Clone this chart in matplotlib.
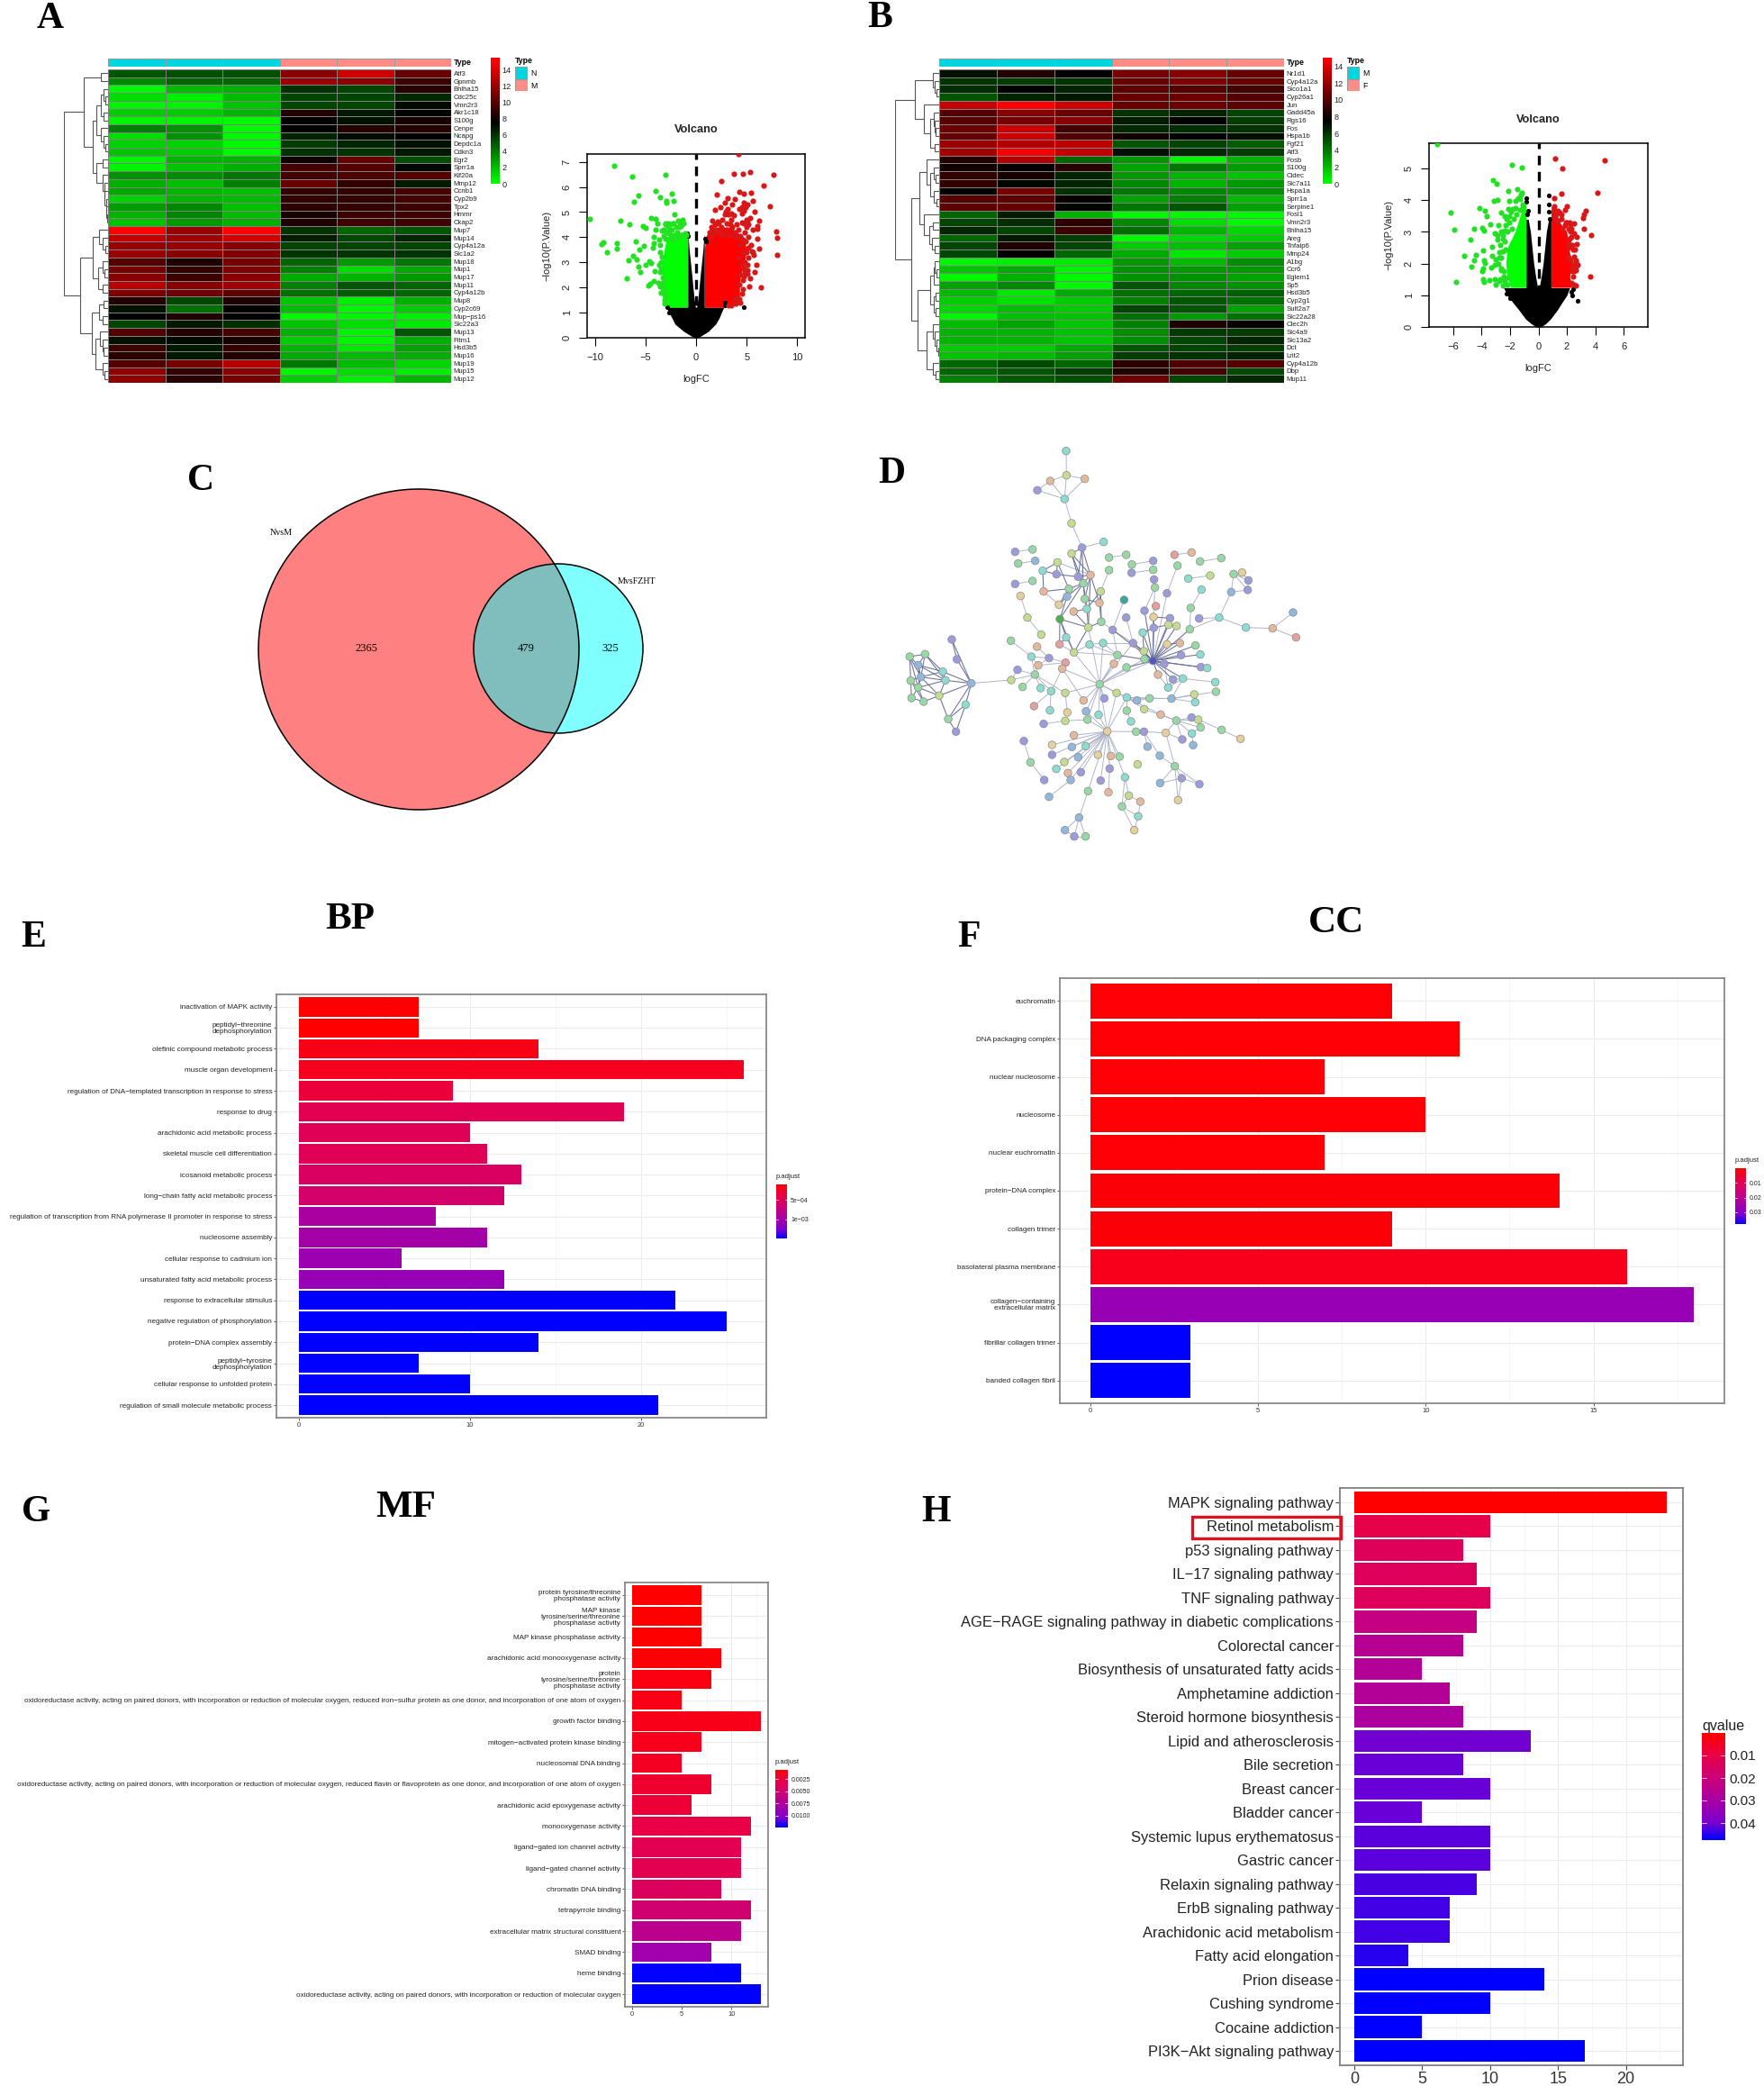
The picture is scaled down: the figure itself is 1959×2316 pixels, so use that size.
import numpy as np
import matplotlib
matplotlib.use('Agg')
import matplotlib.pyplot as plt
from matplotlib.colors import LinearSegmentedColormap, ListedColormap
from matplotlib.collections import LineCollection
from matplotlib.patches import Circle, Rectangle

W, H = 1959, 2316
plt.rcParams['font.family'] = ['Liberation Sans', 'DejaVu Sans']

# ---- panel A heatmap
genes_a = ['Atf3','Gpnmb','Bhlha15','Cdc25c','Vmn2r3','Akr1c18','S100g','Cenpe','Ncapg','Depdc1a','Cdkn3','Egr2','Sprr1a','Kif20a','Mmp12','Ccnb1','Cyp2b9','Tpx2','Hmmr','Ckap2','Mup7','Mup14','Cyp4a12a','Slc1a2','Mup18','Mup1','Mup17','Mup11','Cyp4a12b','Mup8','Cyp2c69','Mup\u2212ps16','Slc22a3','Mup13','Fitm1','Hsd3b5','Mup16','Mup19','Mup15','Mup12']
expr_a = [[5,5.2,5.2,11.5,13.5,10.5],[3.5,4.5,4.5,12,11.5,9.2],[.2,2,2.3,6,5.5,8.7],[1,.5,2,5.5,5.5,6.3],[.4,.4,1.8,5.5,5.5,7.2],
 [1.5,1.5,2.2,8.5,6.8,7.4],[.4,.4,.2,7.5,7,8.2],[3.8,3.2,.2,7.5,8.6,8.6],[1,3.2,.2,6.5,7.2,7.5],[1.4,1.3,.2,5.8,6.5,7],
 [1.7,1.5,.2,6,6,6.8],[.3,2.2,2.3,8,10.5,5.2],[.4,1.7,2.4,9.5,10,7.3],[3.2,3.4,4,9.5,9.8,10],[2.4,1.9,3.8,10.5,9,6.7],
 [2.6,2.2,1.9,9,9,9.5],[1.3,2.2,2,9,9,9.5],[2.9,3.5,1.9,8.8,9,9.3],[2.2,3.6,2,8.2,9.2,9.3],[1.8,3,2.3,8.4,9.4,9.4],
 [15,12,15,6,4.5,5],[13.2,12.2,13.7,6.7,5.5,6.5],[12,12,11.5,5.5,5.5,5.5],[12,11.5,11.2,6,6,6],[10,8.4,11,4.5,3,4],
 [11,9,11.2,3.8,1,2.5],[11.5,9.2,11.5,2.5,2.2,3],[13,11.5,12.2,3.7,5,4.5],[11.2,10.7,10.2,4.2,4.8,4.5],[8.5,5.5,8.4,1.7,.5,2.3],
 [7,4.2,7.5,1.9,.3,1.5],[7.5,8.4,7.6,.2,.3,.5],[5.5,6.8,6.2,1.8,1,.7],[10,8.6,9.5,2.3,.4,5],[7,7.2,8.2,1.5,.3,2.4],
 [9.3,6.8,9,2.2,.7,2.8],[8.8,6.8,8.5,2.5,2,2.4],[10,11,12.8,4,2,1.2],[11.7,9,11.5,.3,1,.5],[11.7,8.7,11,1.5,.5,2.2]]
tree_a = (1.0,
  (.56,(.155,0,1),(.35,(.27,(.16,(.11,2,(.07,3,4)),(.10,5,6)),(.16,7,(.11,8,(.07,9,10)))),
    (.27,(.13,11,12),(.12,13,(.09,14,(.08,15,(.05,16,(.04,17,(.03,18,19)))))))) ),
  (.63,(.35,(.2,20,(.13,21,(.07,22,23))),(.22,(.12,24,(.08,25,26)),(.12,27,28))),
    (.37,(.2,(.1,29,30),(.12,31,32)),(.28,(.18,33,(.13,34,(.1,35,36))),(.13,37,(.08,38,39))))))

# ---- panel B heatmap
genes_b = ['Nr1d1','Cyp4a12a','Slco1a1','Cyp26a1','Jun','Gadd45a','Rgs16','Fos','Hspa1b','Fgf21','Atf3','Fosb','S100g','Cidec','Slc7a11','Hspa1a','Sprr1a','Serpine1','Fosl1','Vmn2r3','Bhlha15','Areg','Tnfaip6','Mmp24','A1bg','Ccr6','Eglem1','Sp5','Hsd3b5','Cyp2g1','Sult2a7','Slc22a28','Clec2h','Slc4a9','Slc13a2','Dct','Lrit2','Cyp4a12b','Dbp','Mup11']
expr_b = [[7,8.5,7.5,11,11.5,10.5],[6,5.7,6,10.5,11.2,10.5],[6.2,7.5,6.5,10.2,10,9.5],[5,6.5,6.8,10.5,10.7,10],[13.3,15,13.5,10.5,10.7,10.2],
 [10,11.5,10.7,6,6.5,5.5],[10,11,11.5,6.7,7.5,5.7],[10.7,13.5,9.5,6.3,6.2,6],[10.5,13.5,10,8,7.5,7],[12,12.7,13,5,5.5,4.8],
 [12.3,14.8,13.2,7,6.3,5.7],[8.5,12.7,4.5,3,.3,2.2],[8,7.7,8.7,2.7,4,2.9],[9,8.2,6.5,3,2.2,1.7],[9,7.3,6.5,3.5,2.2,3],
 [7.6,11,6,4,3.5,3.2],[10,10.2,7.7,2.7,3.7,2],[10.2,10.4,7.6,4,5,2.8],[4.5,6.7,2.3,.2,.2,.2],[5.5,6.2,8.8,3.5,1,.2],
 [6.5,5.5,9.2,4.3,2.2,1.2],[4.5,6.8,5.7,.2,1.2,1.5],[5.5,8.4,5.5,1.5,1.8,2.7],[5.5,7.6,4.5,2.5,.7,1.5],[.3,.5,.6,3,2,3.3],
 [1.7,2.5,.4,3.2,3,3],[.2,2.3,.2,3.2,3.2,2.7],[2.7,3.5,.2,5,3.5,3.2],[2,.7,2.5,4.2,4.5,4.7],[1.5,.9,1.5,3.7,5,4.2],
 [1.2,1.9,1.5,5.5,5,2.7],[.3,1.9,1.8,4.2,3,4.2],[2,2.7,1.7,3.7,8.4,7.7],[2.2,2.2,1.8,3.3,5.8,5.8],[2.2,2.2,1.7,3.3,5.5,6.5],
 [1.5,1.5,2.5,5,5.5,5.7],[1.7,2,2.7,5.7,6,6.5],[4.5,5.3,4.5,8.8,9.8,10],[4.5,5,5.7,8.5,9.5,5.3],[3.7,4.9,5.2,10.7,5.5,6.3]]
tree_b = (1.0,
  (.55,(.14,0,(.1,1,(.07,2,3))),(.34,4,(.2,(.13,5,(.1,6,(.08,7,8))),(.1,9,10)))),
  (.63,(.45,(.28,11,(.2,(.12,12,(.08,13,14)),(.13,15,(.07,16,17)))),(.34,18,(.22,(.14,19,20),(.16,21,(.1,22,23))))),
    (.49,(.2,(.13,(.1,24,(.07,25,26)),27),(.13,(.09,28,29),(.09,30,31))),
      (.28,(.14,32,(.1,33,(.07,34,(.03,35,36)))),(.14,37,(.09,38,39))))))

green_a_x = [-8.1,-6.35,-3,-3.98,-2.43,-5.67,-3.56,-6.14,-2.97,-2.2,-2.97,-2.14,-10.53,-7.48,-6.56,-4.42,-4,-5.25,-4.99,-3.8,-4,-4.21,-3.62,-5.96,-5.16,-5.64,-9.32,-9.14,-7.83,-7.86,-8.84,-6.68,-6.2,-5.9,-5.67,-5.52,-4.99,-4.66,-4.45,-3.68,-4.07,-6.82,-4.75,-4.54,-4.18,-4.3,-4.15,-3.41,-3,-2.8,-2.6,-2.4,-2.2,-2,-1.8,-1.6,-1.5,-2.9,-3.2,-3.4,-2.7,-3,-2.5,-2.2,-1.9,-1.4,-1.1,-1,-3.5,-3.3,-3.3,-3.2,-3,
 -3.2,-3.05,-2.75,-2.55,-2.35,-1.7,-1.35,-1.55,-1.25,-3.6,-3.55,-3.7,-3.4,-3.45,-3.6,-3.15,-3.1,-3.55,-2.3,-1.7,-3.45]
green_a_y = [6.86,6.43,6.49,5.83,5.72,5.65,5.59,5.4,5.45,5.44,5.38,4.92,4.72,4.67,4.5,4.76,4.73,4.44,4.38,4.55,4.29,4.02,3.9,3.84,3.67,3.52,3.73,3.79,3.76,3.54,3.4,3.09,3.26,3.1,2.84,2.6,2.92,3.04,2.96,2.9,2.65,2.36,2.09,2.15,2.27,3.58,3.76,3.22,4.55,4.4,4.5,4.3,4.55,4.4,4.65,4.6,4.5,4.2,4.3,4.25,4.15,3.95,4,4.1,4.2,4.1,4.15,4.1,3,2.4,2.2,1.9,1.7,
 4.05,4.5,4.55,4.3,4.55,4.4,4.7,4.45,4.55,3.4,2.6,2.2,2.1,1.8,2.05,1.5,1.35,3.7,3.9,4,2.75]
red_a_x = [4.15,5.34,4.6,3.71,7.69,2.52,6.65,2.08,4.3,4.75,5.4,5.64,7.27,3.12,3.86,2.82,3.56,4.75,5.04,2.37,1.87,3.12,4.3,4.75,5.76,2.82,3.71,5.34,6.23,1.63,2.14,5.04,6.02,5.64,6.08,7.89,8.04,6.02,1.48,6.2,8.01,5.64,5.1,5.93,5.82,5.1,5.34,5.28,6.38,4.69,4,3.5,3,2.5,3.8,4.5,5,4.8,5.2,5.4,5,5.7,4.4,4.8,4.5,4.6,4.3,4,3.7,
 1.7,2,2.3,1.5,2.7,3,3.3,3.6,3.9,4.2,4.4,4.6,4.9,5.2,5.5,5.2,4.6,4.3,2.9,3.2,3.5,2.6,4.5,4.9,4.5,5.2,4.7,5,3.4,2.2,1.3,1.9,4.4,4.3,4.6,4.5,4.35,3.9,3.5,3.2,5.1,4.85,4.75]
red_a_y = [7.31,6.61,6.51,6.52,6.49,6.25,6.05,5.69,5.82,5.72,5.77,5.45,5.23,5.54,5.52,5.37,5.3,5.37,5.3,5.19,5.09,5.13,5.13,5.07,5.02,4.92,4.89,4.77,4.65,4.65,4.61,4.65,4.45,4.29,4.32,4.23,3.99,3.94,4.41,3.54,3.28,3.4,2.92,2.9,2.62,2.56,2.35,2.05,2,2.44,4.5,4.7,4.55,4.4,4.2,4.6,4.7,4.2,4,3.7,3.4,3.3,3.7,3,2.9,2.3,1.55,1.6,1.5,
 4.2,4.3,4.2,4,4.1,4.3,4.1,4.4,4,4.3,4.05,3.9,3.85,3.6,3.45,3.2,3.4,3.2,5,4.9,4.95,4.7,5.2,5.2,4.95,4.5,4.55,4.4,4.5,4.55,4.2,4.5,2.5,2.1,1.95,1.75,1.4,1.35,1.3,1.3,2.7,2.6,2.75]
black_a_x = [4.75,-2.7,-2.88,2.82,2.88,-.85,-.82,.85,.95]
black_a_y = [1.22,.99,1.22,1.28,1.38,4.15,4.05,3.95,3.85]
fan_a_y = [0,.1,.25,.54,.8,1,1.22]
fan_a_l = [-.15,-.6,-1.2,-2.08,-2.4,-2.67,-2.95]
fan_a_r = [.15,.6,1.2,1.93,2.3,2.5,2.75]
arm_a_y = [1.2,1.6,2,2.5,3,3.5,4.1]
arm_a_in = [.06,.2,.3,.42,.55,.68,.8]
arm_a_out = [.82,.82,.82,.82,.82,.82,.82]
gdense_a_y = [1.22,1.5,2,2.5,3,3.5,4,4.2]
gdense_a_l = [-3.0,-3.26,-3.5,-3.35,-3.35,-3.15,-2.9,-1.5]
gdense_a_r = [-.83,-.83,-.83,-.83,-.83,-.83,-.83,-.83]
rdense_a_y = [1.22,1.4,2,2.5,3,3.5,4,4.4]
rdense_a_l = [.83,.83,.83,.83,.83,.83,.95,1.4]
rdense_a_r = [2.6,4.3,4.3,4.4,4.8,5,4.7,3.4]

# ---- volcano B
green_b_x = [-7.15,-1.86,-1.16,-3.17,-2.94,-2.14,-1.48,-1.16,-1.23,-6.16,-5.95,-4.13,-3.77,-3.62,-2.62,-2.86,-3.13,-2.03,-4.51,-3.94,-3.83,-3.39,-4.8,-5.25,-4.42,-3.92,-4.55,-4.7,-3.83,-3.77,-3.87,-3.94,-3.89,-3.81,-3.45,-5.8,-3.03,-3.05,-2.77,-2.5,-3.26,-3.26,-3.09,-3.34,-3.09,-2.98,-2.24,-2.14,-1.82,-1.6,-1.4,-1.08,-2.05,-2.8,-2.6,-2.9,-2.7,-2.5,-2.5,-2.75,-2.35,-2.6,-2.45,-2.3,
 -2.5,-2.4,-2.2,-2.05,-1.9,-1.75,-1.55,-1.3,-1.1,-1.6,-1.3,-2.3,-2.6,-2.75,-2.8,-2.65,-2.45,-2.7,-2.4,-2.2,-2.15,-2.9,-2.35,-1.95]
green_b_y = [5.78,5.12,5.02,4.63,4.53,4.29,4.35,4.23,4.17,3.61,3.06,3.75,3.68,3.49,3.61,4,3.97,3.98,3.1,3.13,3.04,3.23,2.76,2.26,2.28,2.41,2.09,1.91,2.1,2.02,1.86,1.76,1.5,1.42,1.47,1.42,1.33,1.5,1.45,1.31,2.26,2.54,2.97,1.88,1.97,2.12,3.4,3.73,3.73,3.97,4.06,3.87,3.5,3.2,3,2.75,2.6,2.9,2.4,2.2,2.7,1.8,1.6,3.2,
 2.8,3.05,3,3.3,3.1,3.4,3.55,3.7,3.75,3.75,4.05,2.45,2.2,2.35,2,1.85,1.75,1.5,1.45,1.35,1.55,2.9,3.5,3.65]
red_b_x = [1.19,1.67,4.64,4.13,1.59,1.1,3.3,3.17,3.15,3.17,3.72,3.64,2.69,2.69,1.99,1.88,1.14,1.35,2.52,2.2,1.99,2.73,2.62,2.62,2.41,2.41,2.52,1.6,2.3,2.5,2.65,2.2,2.4,
 1.1,1.25,1.5,1.7,1.9,2.1,2.25,2.3,2.4,2.15,2.55,2.25,2.6,2.5,2.3,2.5,2.45,1.6,1.35,1.1,2.1,2.15,2.6,2.35,1.95,2.25]
red_b_y = [5.31,5,5.26,4.24,4.2,4.06,3.67,3.56,3.44,3.09,2.91,1.59,2.84,2.61,3.82,3.7,3.82,3.68,3.28,3.3,3.3,1.97,1.78,1.31,1.59,2.45,2.21,3.55,3.1,2.95,2.1,2.8,1.9,
 3.7,3.55,3.6,3.1,3.2,3.1,3,2.85,2.6,2.5,2.45,2.1,1.9,1.75,1.4,1.35,1.95,3.4,3.35,3.45,2.65,2.2,2.05,1.75,3.3,3.25]
black_b_x = [-.83,-.88,-.76,-.82,.76,.72,.75,.8,2.75,2.4,2.3,2.45,-2.25,-2.0]
black_b_y = [4.06,3.96,3.68,3.55,4.15,3.87,3.63,3.4,.82,1.0,1.1,1.18,1.05,.9]
fan_b_y = [0,.1,.25,.55,.8,1,1.24]
fan_b_l = [-.15,-.5,-.9,-1.4,-1.85,-2.2,-2.45]
fan_b_r = [.15,.5,.85,1.35,1.7,2,2.2]
arm_b_y = [1.2,1.6,2,2.5,3,3.4]
arm_b_in = [.04,.2,.33,.45,.56,.72]
arm_b_out = [.88,.88,.88,.88,.88,.88]
gdense_b_y = [1.25,1.6,2,2.5,3,3.5,3.9]
gdense_b_l = [-1.95,-2.2,-2.3,-2.2,-1.65,-1.3,-1.0]
gdense_b_r = [-.88,-.88,-.88,-.88,-.88,-.88,-.88]
rdense_b_y = [1.25,1.6,2,2.5,3,3.3,3.8]
rdense_b_l = [.88,.88,.88,.88,.88,.88,.9]
rdense_b_r = [2.35,2.2,2.4,2.1,2.0,1.5,1.1]

# ---- venn
venn_names = ['NvsM', 'MvsFZHT']
venn_counts = [2365, 479, 325]

node_x = [672,673,619,576,734,667,690,725,797,690,502,560,512,569,815,872,1033,1090,891,962,890,962,1043,1118,1189,643,594,640,712,753,815,965,968,1079,1152,1230,1258,1279,1277,1222,502,560,729,597,681,787,1008,1123,520,675,734,865,648,783,741,697,971,1087,933,543,651,872,963,1018,1115,1182,789,746,827,964,1013,1040,1084,1271,1360,1428,1438,589,672,927,291,488,650,575,750,795,895,1008,1051,1103,931,698,556,615,843,933,961,1055,1119,308,151,202,179,261,188,154,270,179,157,197,249,356,337,279,305,489,510,527,568,579,670,659,831,873,999,1121,1142,978,1028,1061,1169,587,622,669,784,840,1012,1171,1099,1102,565,730,799,874,908,950,1023,618,676,738,780,874,932,987,669,597,743,888,1039,1090,1112,1120,1091,1190,1253,809,905,931,1004,1059,1095,698,531,625,691,737,943,625,712,778,821,850,984,553,666,910,639,678,721,817,1034,868,599,687,787,1057,1116,985,745,813,881,615,919,1045,858,912,715,899,668,699,737]
node_y = [62,143,162,193,155,222,303,384,365,404,398,390,437,428,417,408,408,400,440,428,468,458,444,430,419,433,461,473,481,475,459,490,517,487,477,472,467,493,525,532,505,495,503,530,521,530,536,524,545,547,555,558,574,568,588,597,579,585,594,617,622,617,615,619,620,617,631,650,658,651,641,645,656,650,653,600,683,674,683,667,690,694,706,714,707,702,702,706,702,710,729,733,747,752,742,755,761,742,740,756,747,739,775,797,815,827,826,850,885,897,877,836,907,955,997,825,791,848,807,776,767,787,771,783,771,782,785,807,823,820,832,852,862,868,839,868,850,864,873,899,912,893,886,883,893,886,887,926,933,929,941,927,922,940,961,971,957,963,960,950,957,983,1003,991,1021,996,997,997,1001,1023,1042,1009,1028,1041,1048,1045,1047,1074,1082,1074,1078,1080,1077,1099,1098,1106,1121,1135,1132,1120,1112,1149,1158,1158,1160,1152,1172,1168,1195,1199,1210,1214,1230,1225,1246,1279,1283,1325,1325,1346,1346]
node_kind = ('tlopotlptl' 'pggbggrogp' 'pggggltppo' 'gpgtlgsppb' 'pggoglptsb' 'gTsotorgpl' 'Gpspptglpp'
             'llgtobrltt' 'pgrottpsog' 'lltpggPptp' 'ggbtbgtggg' 'lbtgplpggo' 'roogpptopt' 'tttlgltglt'
             'roptbgbtsb' 'tglolpgtgp' 'lgtgssgpsp' 'bopsbtbpbs' 'ogbglltopp' 'gtpbpppbgo' 'lbosgtbsbpg')
node_palette = {'p':'#9c9cdc','g':'#98d8a4','t':'#8cdcd0','l':'#c4dc90','o':'#e4b89c','b':'#90b8dc','s':'#e4d09c','r':'#e4a09c','T':'#3aa89c','G':'#4caf50','P':'#5058c8'}
edges_light = [(0,1),(1,2),(1,4),(1,5),(2,5),(3,5),(2,3),(4,5),(5,6),(6,7),(7,8),(10,11),(12,13),(14,15),(18,19),(20,21),(16,17),(23,24),(33,34),(40,41),(48,59),(59,77),(30,45),(43,52),(25,29),
 (81,92),(92,93),(93,120),(119,120),(119,93),(115,116),(115,118),(118,92),(118,117),(118,119),(118,131),(118,132),(118,133),(118,116),(121,132),(121,120),(172,183),(183,192),(201,193),(111,115),
 (94,84),(91,84),(91,94),(91,134),(134,133),(134,135),(134,121),(134,94),(134,86),(134,141),(134,142),(134,149),(134,150),(134,156),(134,122),(134,85),(134,143),(134,123),(134,67),(134,95),(134,96),
 (165,171),(165,173),(165,174),(165,175),(165,177),(165,178),(165,179),(165,180),(165,181),(165,184),(165,186),(165,187),(165,188),(165,189),(165,191),(165,193),(165,194),(165,198),(165,166),(165,150),(165,149),(165,156),(165,143),(165,134),(165,135),
 (166,167),(167,168),(168,169),(168,158),(190,168),(190,182),(190,195),(190,203),(190,196),(195,196),(195,203),(197,190),(197,195),(191,200),(191,204),(200,202),(200,204),(202,205),(204,205),(205,207),(204,207),
 (206,198),(206,208),(206,209),(206,210),(208,209),(209,210),(176,167),(182,167),(158,159),(158,160),(158,161),(158,162),(158,169),(159,160),(160,161),(161,162),(162,170),(160,163),(163,164),(199,189),
 (65,72),(65,64),(65,73),(65,39),(47,57),(57,72),(39,35),(35,36),(35,37),(35,38),(36,37),(37,38),(39,38),(73,74),(74,75),(74,76),(46,96),(46,22),(31,32),(32,58),(32,62),
 (143,145),(143,146),(143,144),(143,151),(143,152),(143,153),(143,135),(145,146),(146,129),(136,128),(136,129),(136,127),(130,129),(138,146),(139,146),(137,146),(51,68),(61,86),(68,86),(68,94),(84,85),(85,94),(85,86),(153,158),(152,158),(151,157),(144,145),(124,136),(128,129),(140,132),(147,132),(148,133),(154,156),(155,154),(66,68),(121,141),(83,93),(92,119),(78,91),(82,91)]
edges_dark = [(7,9),(7,29),(7,28),(7,42),(25,26),(25,27),(25,44),(26,27),(26,43),(27,28),(28,29),(28,42),(9,28),(9,42),(29,42),(9,29),(42,44),(42,49),(42,60),(42,54),(42,50),(44,49),(44,52),(43,44),(29,50),(29,53),(29,67),(45,54),(45,53),(45,66),(50,53),(50,54),(54,67),(55,67),(49,60),(49,52),(60,67),(60,82),(60,78),(60,91),(66,67),(53,66),(54,55),(67,91),(82,78),
 (96,90),(96,95),(96,86),(96,79),(96,69),(96,62),(96,58),(96,63),(96,70),(96,71),(96,72),(96,124),(96,97),(96,98),(96,125),(96,126),(96,89),(96,88),(96,87),(96,127),(96,94),(96,123),(96,129),(96,128),(96,68),(69,79),(69,70),(69,62),(79,90),(90,95),(86,90),(87,88),(70,71),(62,63),
 (111,80),(111,99),(111,103),(111,106),(111,110),(111,112),(111,113),(112,113),(113,114),(112,114),(80,99),(110,113),
 (100,101),(100,102),(100,104),(100,105),(100,107),(101,102),(101,103),(101,104),(102,103),(102,104),(102,106),(103,104),(103,106),(104,105),(104,106),(104,107),(104,110),(105,107),(105,108),(105,109),(106,107),(106,110),(107,108),(107,109),(107,110),(108,109),(109,110),(102,107),(101,106)]

# ---- enrichment bars
bp_terms = ['inactivation of MAPK activity','peptidyl\u2212threonine\ndephosphorylation','olefinic compound metabolic process','muscle organ development','regulation of DNA\u2212templated transcription in response to stress','response to drug','arachidonic acid metabolic process','skeletal muscle cell differentiation','icosanoid metabolic process','long\u2212chain fatty acid metabolic process','regulation of transcription from RNA polymerase II promoter in response to stress','nucleosome assembly','cellular response to cadmium ion','unsaturated fatty acid metabolic process','response to extracellular stimulus','negative regulation of phosphorylation','protein\u2212DNA complex assembly','peptidyl\u2212tyrosine\ndephosphorylation','cellular response to unfolded protein','regulation of small molecule metabolic process']
bp_count = [7,7,14,26,9,19,10,11,13,12,8,11,6,12,22,25,14,7,10,21]
bp_padj = [1.1e-4,1.1e-4,2e-4,2.3e-4,3.5e-4,4.6e-4,4.8e-4,4.8e-4,5.5e-4,6e-4,9.5e-4,1e-3,1.05e-3,1.08e-3,1.48e-3,1.48e-3,1.48e-3,1.48e-3,1.48e-3,1.48e-3]
cc_terms = ['euchromatin','DNA packaging complex','nuclear nucleosome','nucleosome','nuclear euchromatin','protein\u2212DNA complex','collagen trimer','basolateral plasma membrane','collagen\u2212containing\nextracellular matrix','fibrillar collagen trimer','banded collagen fibril']
cc_count = [9,11,7,10,7,14,9,16,18,3,3]
cc_padj = [.0003,.0003,.0003,.0003,.0003,.001,.001,.003,.027,.038,.038]
mf_terms = ['protein tyrosine/threonine\nphosphatase activity','MAP kinase\ntyrosine/serine/threonine\nphosphatase activity','MAP kinase phosphatase activity','arachidonic acid monooxygenase activity','protein\ntyrosine/serine/threonine\nphosphatase activity','oxidoreductase activity, acting on paired donors, with incorporation or reduction of molecular oxygen, reduced iron\u2212sulfur protein as one donor, and incorporation of one atom of oxygen','growth factor binding','mitogen\u2212activated protein kinase binding','nucleosomal DNA binding','oxidoreductase activity, acting on paired donors, with incorporation or reduction of molecular oxygen, reduced flavin or flavoprotein as one donor, and incorporation of one atom of oxygen','arachidonic acid epoxygenase activity','monooxygenase activity','ligand\u2212gated ion channel activity','ligand\u2212gated channel activity','chromatin DNA binding','tetrapyrrole binding','extracellular matrix structural constituent','SMAD binding','heme binding','oxidoreductase activity, acting on paired donors, with incorporation or reduction of molecular oxygen']
mf_count = [7,7,7,9,8,5,13,7,5,8,6,12,11,11,9,12,11,8,11,13]
mf_padj = [.0006,.0006,.0006,.0009,.0012,.0013,.0014,.0016,.0018,.0022,.0025,.0030,.0036,.0036,.0042,.0052,.0068,.0085,.0125,.0125]
kegg_terms = ['MAPK signaling pathway','Retinol metabolism','p53 signaling pathway','IL\u221217 signaling pathway','TNF signaling pathway','AGE\u2212RAGE signaling pathway in diabetic complications','Colorectal cancer','Biosynthesis of unsaturated fatty acids','Amphetamine addiction','Steroid hormone biosynthesis','Lipid and atherosclerosis','Bile secretion','Breast cancer','Bladder cancer','Systemic lupus erythematosus','Gastric cancer','Relaxin signaling pathway','ErbB signaling pathway','Arachidonic acid metabolism','Fatty acid elongation','Prion disease','Cushing syndrome','Cocaine addiction','PI3K\u2212Akt signaling pathway']
kegg_count = [23,10,8,9,10,9,8,5,7,8,13,8,10,5,10,10,9,7,7,4,14,10,5,17]
kegg_q = [.0002,.0105,.0135,.014,.014,.022,.026,.027,.027,.029,.0405,.041,.041,.041,.042,.042,.043,.0435,.0435,.045,.0476,.0476,.0476,.0476]

heat_cmap = LinearSegmentedColormap.from_list('gbr', ['#00ff00', '#000000', '#ff0000'])
bar_cmap = LinearSegmentedColormap.from_list('rb', [(0,'#ff0000'),(.21,'#e80048'),(.42,'#cc0078'),(.63,'#a800a4'),(.84,'#7a00d0'),(1,'#0000ff')])
type_colors = ListedColormap(['#00d5e0', '#ff8d85'])

fig = plt.figure(figsize=(W/100, H/100), dpi=100, facecolor='white')

def box(x0, y0, x1, y1):
    return fig.add_axes([x0/W, 1-y1/H, (x1-x0)/W, (y1-y0)/H])

def draw_tree(ax, node):
    if not isinstance(node, tuple):
        return 0, node + .5
    h, a, b = node
    h1, y1 = draw_tree(ax, a)
    h2, y2 = draw_tree(ax, b)
    ax.plot([h1, h, h, h2], [y1, y1, y2, y2], color='#555555', lw=.8, solid_joinstyle='miter')
    return h, (y1+y2)/2

def heatmap(x0, x1, expr, genes, tree, names, tick_top):
    a = box(x0, 65, x1, 74)
    a.pcolormesh([[0,0,0,1,1,1]], cmap=type_colors, edgecolors='#9a9a9a', linewidth=.6)
    a.axis('off')
    fig.text((x1+3)/W, 1-70/H, 'Type', fontsize=6.3, fontweight='bold', va='center')
    m = box(x0, 77, x1, 425)
    m.pcolormesh(np.array(expr), cmap=heat_cmap, vmin=0, vmax=15, edgecolors='#808080', linewidth=.6)
    m.set_ylim(40, 0)
    m.set_xticks([])
    m.yaxis.tick_right()
    m.set_yticks(np.arange(40)+.5, genes, fontsize=5.6, color='#222222')
    m.tick_params(length=0, pad=2)
    for s in m.spines.values():
        s.set_visible(False)
    d = box(x0-49, 77, x0, 425)
    draw_tree(d, tree)
    d.set_xlim(1.0, 0)
    d.set_ylim(40, 0)
    d.axis('off')
    # colour key
    kx = x1+44 if names[0] == 'N' else x1+43
    c = box(kx, 64, kx+10, 204)
    c.imshow(np.linspace(tick_top, 0, 200)[:, None], cmap=heat_cmap, vmin=0, vmax=15, aspect='auto', extent=[0, 1, 0, tick_top])
    c.set_xticks([])
    c.yaxis.tick_right()
    c.set_yticks([0,2,4,6,8,10,12,14], ['0','2','4','6','8','10','12','14'], fontsize=6.6, color='#222222')
    c.tick_params(length=0, pad=2)
    for s in c.spines.values():
        s.set_visible(False)
    lx = x1+71 if names[0] == 'N' else x1+70
    fig.text(lx/W, 1-68/H, 'Type', fontsize=6.3, fontweight='bold', va='center')
    k = box(lx, 74, lx+14, 101)
    k.pcolormesh([[1],[0]], cmap=type_colors, edgecolors='#9a9a9a', linewidth=.6)
    k.axis('off')
    fig.text((lx+17)/W, 1-81/H, names[0], fontsize=6.3, va='center')
    fig.text((lx+17)/W, 1-95/H, names[1], fontsize=6.3, va='center')

def fill_band(ax, y, l, r, color, z):
    ax.fill_betweenx(y, l, r, color=color, lw=0, zorder=z)

def volcano(rect, lim_x, lim_y, ticks_x, ticks_y, fan, arm, gd, rd, gp, rp, bp, title_y):
    ax = box(*rect)
    ax.plot([0, 0], [0, lim_y], color='k', lw=2.4, ls=(0, (3.2, 2.2)), zorder=6)
    fill_band(ax, fan[0], fan[1], fan[2], 'k', 2)
    ya, ia, oa = arm
    fill_band(ax, ya, ia, oa, 'k', 2)
    fill_band(ax, ya, [-v for v in oa], [-v for v in ia], 'k', 2)
    fill_band(ax, gd[0], gd[1], gd[2], '#00ff00', 3)
    fill_band(ax, rd[0], rd[1], rd[2], '#ff0000', 3)
    ax.scatter(bp[0], bp[1], s=14, color='k', lw=0, zorder=4)
    ax.scatter(gp[0], gp[1], s=20, color='#22e022', lw=0, zorder=5)
    ax.scatter(rp[0], rp[1], s=20, color='#d81818', lw=0, zorder=5)
    ax.set_xlim(-lim_x, lim_x)
    ax.set_ylim(0, lim_y)
    ax.set_xticks(ticks_x, [str(t).replace('-', '\u2212') for t in ticks_x], fontsize=8, color='#222222')
    ax.set_yticks(ticks_y, [str(t) for t in ticks_y], fontsize=8, rotation=90, va='center', color='#222222')
    ax.tick_params(length=6.5, width=.8, pad=6)
    for s in ax.spines.values():
        s.set_linewidth(1.1)
    ax.set_xlabel('logFC', fontsize=8, labelpad=10, color='#222222')
    ax.set_ylabel('\u2212log10(P.Value)', fontsize=8, labelpad=9, color='#222222')
    cx = (rect[0]+rect[2])/2
    fig.text(cx/W, 1-title_y/H, 'Volcano', fontsize=9.2, fontweight='bold', ha='center', va='center', color='#222222')

def bars(rect, terms, count, colval, vmax_range, xlim, major, minor, fs, tfs, lw_spine=1.2):
    ax = box(*rect)
    y = np.arange(len(terms))
    vmin, vmax = vmax_range
    cols = bar_cmap((np.array(colval)-vmin)/(vmax-vmin))
    ax.barh(y, count, height=.92, color=cols, edgecolor='none', zorder=3)
    ax.set_ylim(len(terms)-.4, -.6)
    ax.set_xlim(*xlim)
    ax.set_yticks(y, terms, fontsize=fs, color='#222222', linespacing=1.0)
    ax.set_xticks(major, [str(m) for m in major], fontsize=tfs, color='#333333')
    ax.set_xticks(minor, minor=True)
    ax.tick_params(axis='both', which='major', length=2, width=.6, color='#444444', pad=1.5)
    ax.tick_params(axis='x', which='minor', length=0)
    ax.grid(True, which='major', color='#ececec', lw=.8, zorder=0)
    ax.grid(True, which='minor', axis='x', color='#f3f3f3', lw=.5, zorder=0)
    for s in ax.spines.values():
        s.set_color('#808080')
        s.set_linewidth(lw_spine)
    return ax

def gradient(rect, vrange, ticks, labels, title, fs, title_fs):
    c = box(*rect)
    c.imshow(np.linspace(0, 1, 200)[:, None], cmap=bar_cmap, aspect='auto', extent=[0, 1, vrange[1], vrange[0]])
    c.set_xticks([])
    c.yaxis.tick_right()
    c.set_yticks(ticks, labels, fontsize=fs, color='#222222')
    c.tick_params(length=0, pad=3)
    for t in ticks:
        c.plot([0, .2], [t, t], color='white', lw=.5)
        c.plot([.8, 1], [t, t], color='white', lw=.5)
    c.set_xlim(0, 1)
    c.set_ylim(vrange[1], vrange[0])
    for s in c.spines.values():
        s.set_visible(False)
    fig.text(rect[0]/W, 1-(rect[1]-8)/H, title, fontsize=title_fs, va='center', color='#222222')

heatmap(120, 501, expr_a, genes_a, tree_a, ['N', 'M'], 15.5)
heatmap(1043, 1426, expr_b, genes_b, tree_b, ['M', 'F'], 15.0)

volcano((652, 171, 894, 375), 10.77, 7.31, [-10,-5,0,5,10], [0,1,2,3,4,5,6,7],
        (fan_a_y, fan_a_l, fan_a_r), (arm_a_y, arm_a_in, arm_a_out), (gdense_a_y, gdense_a_l, gdense_a_r), (rdense_a_y, rdense_a_l, rdense_a_r),
        (green_a_x, green_a_y), (red_a_x, red_a_y), (black_a_x, black_a_y), 144)
volcano((1587, 159, 1830, 363), 7.7, 5.8, [-6,-4,-2,0,2,4,6], [0,1,2,3,4,5],
        (fan_b_y, fan_b_l, fan_b_r), (arm_b_y, arm_b_in, arm_b_out), (gdense_b_y, gdense_b_l, gdense_b_r), (rdense_b_y, rdense_b_l, rdense_b_r),
        (green_b_x, green_b_y), (red_b_x, red_b_y), (black_b_x, black_b_y), 133)

# venn, overlay in full picture pixels
page = fig.add_axes([0, 0, 1, 1])
page.set_xlim(0, W)
page.set_ylim(H, 0)
page.axis('off')
page.set_zorder(10)
big = Circle((465, 721), 178, fc='#ff8080', ec='none')
small = Circle((620, 720), 94, fc='#80ffff', ec='none')
page.add_patch(big)
page.add_patch(small)
both = Circle((620, 720), 94, fc='#80bebe', ec='none')
page.add_patch(both)
both.set_clip_path(big)
page.add_patch(Circle((465, 721), 178, fc='none', ec='k', lw=1.1))
page.add_patch(Circle((620, 720), 94, fc='none', ec='k', lw=1.1))
page.text(312, 592, venn_names[0], fontsize=7.2, family='Liberation Serif', ha='center', va='center')
page.text(707, 645, venn_names[1], fontsize=7.2, family='Liberation Serif', ha='center', va='center')
page.text(407, 720, str(venn_counts[0]), fontsize=9, family='Liberation Serif', ha='center', va='center')
page.text(584, 720, str(venn_counts[1]), fontsize=9, family='Liberation Serif', ha='center', va='center')
page.text(678, 720, str(venn_counts[2]), fontsize=9, family='Liberation Serif', ha='center', va='center')

for letter, lx, ly in zip('ABCDEFGH', [56,977,223,990,37,1076,40,1039], [21,20,534,526,1041,1041,1679,1679]):
    page.text(lx, ly, letter, fontsize=30, family='Liberation Serif', fontweight='bold', ha='center', va='center')
for sub, sx, sy in zip(['BP','CC','MF'], [389,1484,451], [1021,1025,1674]):
    page.text(sx, sy, sub, fontsize=31, family='Liberation Serif', fontweight='bold', ha='center', va='center')

# network
net = box(960, 480, 1480, 940)
net.set_xlim(0, 1560)
net.set_ylim(1380, 0)
net.axis('off')
nx = np.array(node_x)
ny = np.array(node_y)
light = [[(nx[a], ny[a]), (nx[b], ny[b])] for a, b in edges_light]
dark = [[(nx[a], ny[a]), (nx[b], ny[b])] for a, b in edges_dark]
net.add_collection(LineCollection(light, colors='#aab0c8', linewidths=.65, zorder=1))
net.add_collection(LineCollection(dark, colors='#6a7098', linewidths=.75, zorder=1))
cols = [node_palette[k] for k in node_kind]
net.scatter(nx, ny, s=38, c=cols, edgecolors='#8a8a8a', linewidths=.5, zorder=2)

bars((307, 1104, 851, 1574), bp_terms, bp_count, bp_padj, (1.1e-4, 1.48e-3), (-1.3, 27.3), [0,10,20], [5,15,25], 5.9, 5.4)
gradient((862, 1315, 874, 1375), (1.1e-4, 1.48e-3), [5e-4, 1e-3], ['5e\u221204', '1e\u221203'], 'p.adjust', 5, 5.5)
bars((1177, 1086, 1915, 1558), cc_terms, cc_count, cc_padj, (0, .038), (-.9, 18.9), [0,5,10,15], [2.5,7.5,12.5,17.5], 5.9, 5.4)
gradient((1927, 1297, 1939, 1359), (0, .038), [.01,.02,.03], ['0.01','0.02','0.03'], 'p.adjust', 5, 5.5)
bars((694, 1757, 853, 2228), mf_terms, mf_count, mf_padj, (.0006, .0125), (-.7, 13.7), [0,5,10], [2.5,7.5,12.5], 5.9, 5.4)
gradient((861, 1965, 875, 2029), (.0006, .0125), [.0025,.005,.0075,.01], ['0.0025','0.0050','0.0075','0.0100'], 'p.adjust', 5, 5.5)
ax_h = bars((1488, 1652, 1869, 2293), kegg_terms, kegg_count, kegg_q, (0, .0476), (-1.06, 24.2), [0,5,10,15,20], [2.5,7.5,12.5,17.5,22.5], 11.9, 13, 1.3)
ax_h.tick_params(axis='both', which='major', length=3.5, width=.8)
page.add_patch(Rectangle((1324, 1684), 165, 24, fc='none', ec='#e01020', lw=2.4))
gradient((1890, 1924, 1916, 2043), (0, .0476), [.01,.02,.03,.04], ['0.01','0.02','0.03','0.04'], 'qvalue', 11, 11.5)

fig.savefig('out.png', dpi=100)
